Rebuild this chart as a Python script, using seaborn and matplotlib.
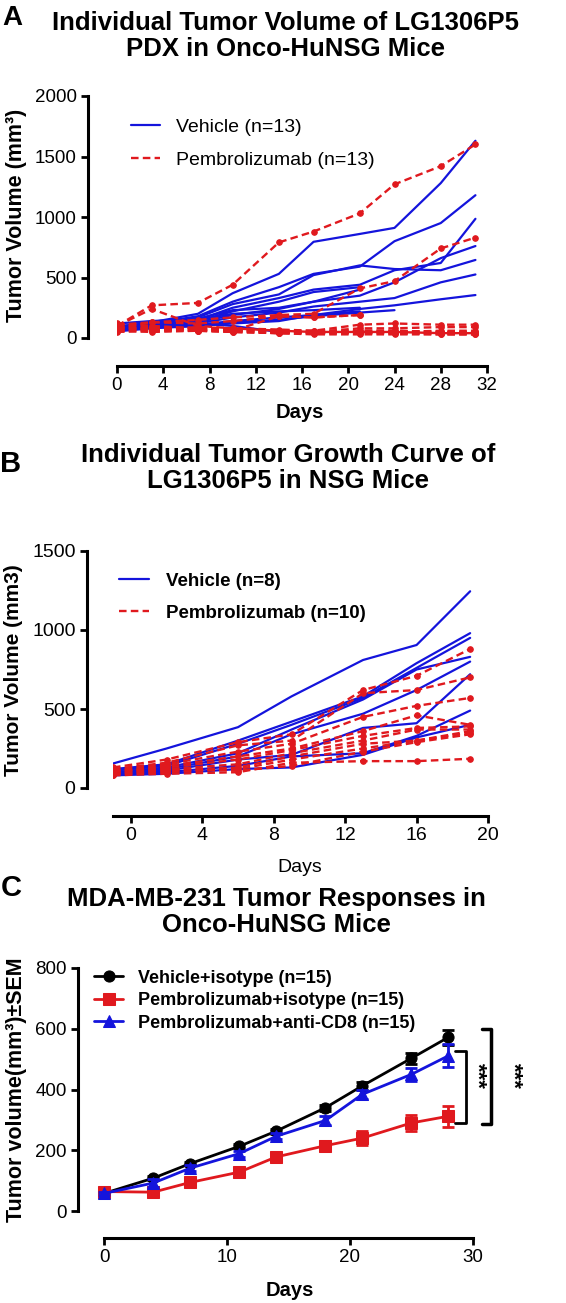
import matplotlib
matplotlib.use("Agg")
import matplotlib.pyplot as plt
from matplotlib.lines import Line2D
import numpy as np
import pandas as pd
import seaborn as sns

# ---- panel A: individual curves, Onco-HuNSG mice
days_a = [0, 3, 7, 10, 14, 17, 21, 24, 28, 31]
vehicle_a = [
    [90, 130, 200, 370, 530, 795, 860, 910, 1280, 1630],
    [80, 120, 180, 300, 420, 530, 590, 800, 950, 1180],
    [70, 110, 150, 250, 330, 400, 440, 560, 620, 985],
    [85, 120, 170, 280, 360, 520, 600, 570, 560, 645],
    [75, 105, 140, 220, 300, 380, 420, None, None, None],
    [70, 100, 130, 190, 240, 300, 350, 460, 660, 760],
    [60, 90, 120, 170, 210, 260, 300, 330, 460, 525],
    [65, 90, 110, 140, 170, 190, 240, 270, 320, 355],
    [60, 85, 100, 130, 150, 180, 210, 230, None, None],
    [55, 80, 100, 120, 140, 190, 220, None, None, None],
    [100, 110, 120, 100, 50, None, None, None, None, None],
    [120, 140, 160, 230, 250, 300, 400, None, None, None],
    [95, 125, 150, 200, 220, 230, 250, None, None, None],
]
pembro_a = [
    [100, 270, 290, 440, 790, 880, 1030, 1270, 1420, 1600],
    [80, 130, 150, 170, 190, 200, 410, 470, 740, 830],
    [110, 130, 120, 140, 180, 170, 190, None, None, None],
    [90, 80, 80, 70, 60, 60, 110, 120, 110, 110],
    [70, 70, 70, 60, 50, 50, 80, 80, 90, 90],
    [60, 70, 60, 50, 40, 40, 50, 50, 60, 60],
    [50, 60, 60, 50, 40, 40, 40, 40, 40, 40],
    [110, 90, 80, 60, 40, 30, 30, 30, 30, 30],
    [120, 100, 80, 70, 50, 50, 60, 60, 50, 50],
    [80, 80, 70, 70, 60, 40, 40, 40, 30, 30],
    [90, 70, 90, 80, 70, 60, 60, 60, 50, 50],
    [100, 240, 100, 80, 60, 50, 50, 50, 40, 40],
    [60, 50, 60, 60, 180, 170, 190, None, None, None],
]

# ---- panel B: individual curves, NSG mice
days_b = [-1, 2, 6, 9, 13, 16, 19]
vehicle_b = [
    [155, 250, 385, 580, 810, 905, 1245],
    [120, 150, 300, 420, 580, 790, 980],
    [110, 140, 280, 400, 570, 760, 950],
    [100, 130, 220, 370, 560, 750, 830],
    [95, 120, 200, 340, 470, 620, 800],
    [90, 110, 180, 210, 380, 410, 720],
    [85, 100, 140, 200, 220, 330, 490],
    [80, 90, 120, 130, 210, 320, 400],
]
pembro_b = [
    [130, 180, 290, 340, 620, 710, 880],
    [120, 160, 270, 300, 600, 620, 700],
    [110, 150, 230, 280, 450, 520, 570],
    [100, 140, 200, 250, 360, 460, 400],
    [100, 130, 180, 240, 330, 380, 390],
    [90, 120, 150, 220, 300, 370, 370],
    [90, 110, 130, 200, 280, 300, 360],
    [85, 100, 120, 180, 250, 300, 350],
    [80, 90, 100, 160, 170, 170, 185],
    [110, 120, 110, 140, 230, 290, 340],
]

# ---- panel C: group means +/- SEM
days_c = [0, 4, 7, 11, 14, 18, 21, 25, 28]
veh_iso_mean = [58, 108, 156, 213, 263, 340, 412, 503, 572]
veh_iso_sem = [5, 6, 6, 7, 8, 10, 12, 18, 25]
pem_iso_mean = [64, 62, 94, 128, 178, 215, 240, 290, 312]
pem_iso_sem = [8, 8, 9, 10, 10, 14, 22, 25, 35]
pem_cd8_mean = [58, 92, 141, 189, 246, 298, 384, 450, 511]
pem_cd8_sem = [6, 12, 10, 10, 10, 15, 15, 22, 38]

BLUE = "#1414dc"
RED = "#e0191e"
DASH = (0, (3.2, 1.8))
W, H = 566, 1303

sns.set_style("ticks")
plt.rcParams["font.family"] = ["Liberation Sans", "DejaVu Sans"]
plt.rcParams["text.color"] = "black"
plt.rcParams["axes.labelcolor"] = "black"
plt.rcParams["xtick.color"] = "black"
plt.rcParams["ytick.color"] = "black"


def to_long(days, curves, group):
    rows = []
    for i, vals in enumerate(curves):
        for d, v in zip(days, vals):
            if v is not None:
                rows.append((group, i, d, v))
    return pd.DataFrame(rows, columns=["group", "mouse", "day", "volume"])


def add_axes(fig, left, top, right, bottom):
    return fig.add_axes([left / W, 1 - bottom / H, (right - left) / W, (bottom - top) / H])


def style_axes(ax, off_left, off_bottom, labelsize):
    sns.despine(ax=ax, offset={"left": off_left, "bottom": off_bottom})
    for s in ("left", "bottom"):
        ax.spines[s].set_linewidth(2.2)
        ax.spines[s].set_color("black")
    ax.tick_params(width=2, length=5, labelsize=labelsize, colors="black", pad=3)
    ax.set_xlabel("")
    ax.set_ylabel("")


def individual(ax, days, veh, pem):
    sns.lineplot(data=to_long(days, veh, "Vehicle"), x="day", y="volume",
                 units="mouse", estimator=None, color=BLUE, lw=1.6, ax=ax)
    sns.lineplot(data=to_long(days, pem, "Pembrolizumab"), x="day", y="volume",
                 units="mouse", estimator=None, color=RED, lw=1.7,
                 linestyle=DASH, marker="o", ms=4, mec=RED, ax=ax)


fig = plt.figure(figsize=(W / 100, H / 100), dpi=100)

# ---------------- A
ax = add_axes(fig, 117, 96, 487, 338)
individual(ax, days_a, vehicle_a, pembro_a)
ax.set_xlim(0, 32)
ax.set_ylim(0, 2000)
ax.set_xticks(range(0, 33, 4))
ax.set_yticks(range(0, 2001, 500))
style_axes(ax, 21, 20, 13.5)
handles = [Line2D([], [], color=BLUE, lw=1.6),
           Line2D([], [], color=RED, lw=1.7, ls=DASH)]
ax.legend(handles, ["Vehicle (n=13)", "Pembrolizumab (n=13)"], loc="upper left",
          bbox_to_anchor=(-0.01, 0.98), frameon=False, fontsize=14,
          handlelength=1.5, handletextpad=0.8, labelspacing=0.8)
fig.text(17 / W, 1 - 215 / H, "Tumor Volume (mm³)", rotation=90, ha="center",
         va="center", fontsize=15.5, fontweight="bold")
fig.text(300 / W, 1 - 413 / H, "Days", ha="center", va="center",
         fontsize=14.5, fontweight="bold")
fig.text(286 / W, 1 - 36 / H, "Individual Tumor Volume of LG1306P5\nPDX in Onco-HuNSG Mice",
         ha="center", va="center", fontsize=18.5, fontweight="bold", linespacing=1.15)
fig.text(12 / W, 1 - 18 / H, "A", ha="center", va="center", fontsize=20, fontweight="bold")

# ---------------- B
ax = add_axes(fig, 113, 551, 488, 788)
individual(ax, days_b, vehicle_b, pembro_b)
ax.set_xlim(-1, 20)
ax.set_ylim(0, 1500)
ax.set_xticks(range(0, 21, 4))
ax.set_yticks(range(0, 1501, 500))
style_axes(ax, 19, 20, 14)
ax.legend(handles, ["Vehicle (n=8)", "Pembrolizumab (n=10)"], loc="upper left",
          bbox_to_anchor=(-0.03, 0.98), frameon=False,
          prop={"size": 13.5, "weight": "bold"},
          handlelength=1.6, handletextpad=0.9, labelspacing=0.8)
fig.text(14 / W, 1 - 670 / H, "Tumor Volume (mm3)", rotation=90, ha="center",
         va="center", fontsize=15, fontweight="bold")
fig.text(300 / W, 1 - 868 / H, "Days", ha="center", va="center", fontsize=14)
fig.text(288 / W, 1 - 468 / H, "Individual Tumor Growth Curve of\nLG1306P5 in NSG Mice",
         ha="center", va="center", fontsize=18.5, fontweight="bold", linespacing=1.15)
fig.text(11 / W, 1 - 464 / H, "B", ha="center", va="center", fontsize=21, fontweight="bold")

# ---------------- C
ax = add_axes(fig, 104, 968, 473, 1211)
groups_c = [
    ("Vehicle+isotype (n=15)", veh_iso_mean, veh_iso_sem, "black", "o", 8),
    ("Pembrolizumab+isotype (n=15)", pem_iso_mean, pem_iso_sem, RED, "s", 8),
    ("Pembrolizumab+anti-CD8 (n=15)", pem_cd8_mean, pem_cd8_sem, BLUE, "^", 8.5),
]
for label, mean, sem, col, mk, ms in groups_c:
    ax.errorbar(days_c, mean, yerr=sem, fmt="none", ecolor=col, elinewidth=2,
                capsize=4, capthick=2, clip_on=False)
    sns.lineplot(x=days_c, y=mean, color=col, lw=2, marker=mk, ms=ms, mec=col,
                 label=label, ax=ax, clip_on=False)
ax.set_xlim(0, 30)
ax.set_ylim(0, 800)
ax.set_xticks([0, 10, 20, 30])
ax.set_yticks(range(0, 801, 200))
style_axes(ax, 19, 19.5, 13.5)
ax.legend(loc="upper left", bbox_to_anchor=(-0.07, 1.06), frameon=False,
          prop={"size": 13, "weight": "bold"},
          handlelength=1.6, handletextpad=0.8, labelspacing=0.3)

# significance brackets
ax.plot([28.5, 29.4, 29.4, 28.5], [528, 528, 290, 290], color="black", lw=2, clip_on=False)
ax.plot([30.7, 31.5, 31.5, 30.7], [600, 600, 285, 285], color="black", lw=2.5, clip_on=False)
ax.text(30.3, 445, "***", rotation=270, ha="center", va="center", fontsize=16,
        fontweight="bold", clip_on=False)
ax.text(33.2, 445, "***", rotation=270, ha="center", va="center", fontsize=16,
        fontweight="bold", clip_on=False)

fig.text(17 / W, 1 - 1090 / H, "Tumor volume(mm³)±SEM", rotation=90, ha="center",
         va="center", fontsize=15.5, fontweight="bold")
fig.text(290 / W, 1 - 1290 / H, "Days", ha="center", va="center",
         fontsize=14.5, fontweight="bold")
fig.text(276 / W, 1 - 912 / H, "MDA-MB-231 Tumor Responses in\nOnco-HuNSG Mice",
         ha="center", va="center", fontsize=18.5, fontweight="bold", linespacing=1.15)
fig.text(11 / W, 1 - 888 / H, "C", ha="center", va="center", fontsize=21, fontweight="bold")

fig.savefig("out.png", dpi=100)
plt.close(fig)
